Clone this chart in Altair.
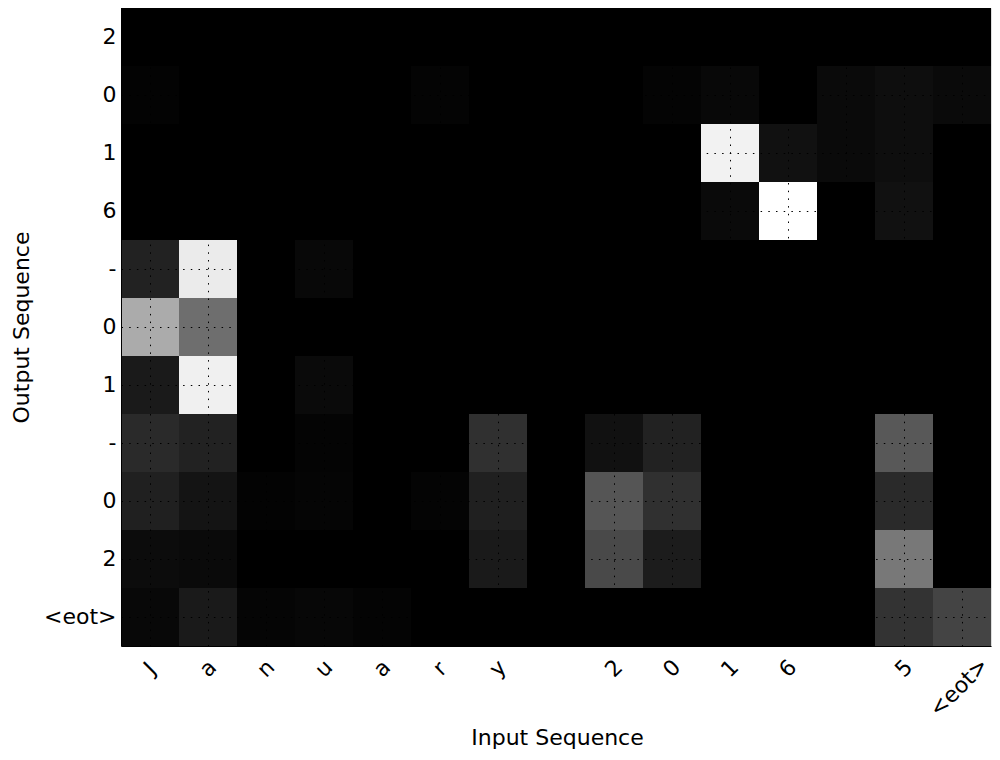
import json
import altair as alt
import pandas as pd

# Input characters (x) and output characters (y)
inputs = ["J", "a", "n", "u", "a", "r", "y", " ", "2", "0", "1", "6", " ", "5", "<eot>"]
outputs = ["2", "0", "1", "6", "-", "0", "1", "-", "0", "2", "<eot>"]

# Attention weights, one list per output character
row_2a = [0, 0, 0, 0, 0, 0, 0, 0, 0, 0, 0, 0, 0, 0, 0]
row_0a = [0.01, 0, 0, 0, 0, 0.015, 0, 0, 0, 0.015, 0.03, 0, 0.04, 0.055, 0.04]
row_1a = [0, 0, 0, 0, 0, 0, 0, 0, 0, 0, 0.95, 0.065, 0.04, 0.055, 0]
row_6a = [0, 0, 0, 0, 0, 0, 0, 0, 0, 0, 0.04, 1.0, 0, 0.065, 0]
row_da = [0.135, 0.92, 0, 0.03, 0, 0, 0, 0, 0, 0, 0, 0, 0, 0, 0]
row_0b = [0.67, 0.43, 0, 0, 0, 0, 0, 0, 0, 0, 0, 0, 0, 0, 0]
row_1b = [0.1, 0.94, 0, 0.04, 0, 0, 0, 0, 0, 0, 0, 0, 0, 0, 0]
row_db = [0.165, 0.135, 0, 0.015, 0, 0, 0.19, 0, 0.065, 0.135, 0, 0, 0, 0.345, 0]
row_0c = [0.125, 0.08, 0.01, 0.02, 0, 0.015, 0.125, 0, 0.335, 0.19, 0, 0, 0, 0.165, 0]
row_2c = [0.047, 0.04, 0, 0, 0, 0, 0.1, 0, 0.285, 0.11, 0, 0, 0, 0.47, 0]
row_eot = [0.03, 0.1, 0.02, 0.027, 0.015, 0, 0, 0, 0, 0, 0, 0, 0, 0.2, 0.265]

rows = [row_2a, row_0a, row_1a, row_6a, row_da, row_0b, row_1b,
        row_db, row_0c, row_2c, row_eot]

records = []
for yi, r in enumerate(rows):
    for xi, v in enumerate(r):
        records.append({"xi": xi, "yi": yi, "w": v})
df = pd.DataFrame(records)

FONT = "DejaVu Sans"
x_lab = json.dumps(inputs)
y_lab = json.dumps(outputs)
last = len(inputs) - 1

gray = alt.Scale(domain=[0, 1], range=["black", "white"], interpolate="rgb")

chart = alt.Chart(df).mark_rect(strokeWidth=0).encode(
    x=alt.X(
        "xi:O",
        scale=alt.Scale(paddingInner=0, paddingOuter=0),
        axis=alt.Axis(
            title="Input Sequence",
            labelExpr=f"{x_lab}[datum.value]",
            labelAngle=315,
            labelAlign="center",
            labelBaseline="middle",
            labelPadding=alt.condition(f"datum.value == {last}", alt.value(41), alt.value(22)),
            labelOffset=alt.condition(f"datum.value == {last}", alt.value(-3), alt.value(0)),
            labelFontSize=22,
            labelFont=FONT,
            labelColor="black",
            ticks=False,
            tickSize=0,
            grid=True,
            gridColor="black",
            gridDash=[1.5, 6.2],
            gridWidth=1,
            bandPosition=0.5,
            domainColor="black",
            titleFont=FONT,
            titleFontSize=22,
            titleFontWeight="normal",
            titleColor="black",
            titleBaseline="alphabetic",
            titleX=436,
            titleY=98,
            zindex=1,
        ),
    ),
    y=alt.Y(
        "yi:O",
        scale=alt.Scale(paddingInner=0, paddingOuter=0),
        axis=alt.Axis(
            title="Output Sequence",
            labelExpr=f"{y_lab}[datum.value]",
            labelPadding=5,
            labelFontSize=22,
            labelFont=FONT,
            labelColor="black",
            ticks=False,
            tickSize=0,
            grid=True,
            gridColor="black",
            gridDash=[1.5, 6.2],
            gridWidth=1,
            bandPosition=0.5,
            domainColor="black",
            titleFont=FONT,
            titleFontSize=22,
            titleFontWeight="normal",
            titleColor="black",
            titleBaseline="alphabetic",
            titleAngle=270,
            titleX=-93,
            titleY=319,
            zindex=1,
        ),
    ),
    color=alt.Color("w:Q", scale=gray, legend=None),
).properties(
    width=870,
    height=638,
    autosize=alt.AutoSizeParams(type="none"),
    padding={"left": 113, "top": 0, "right": 1, "bottom": 106},
).configure_view(stroke="black", strokeWidth=1, fill="black").configure(background="white")

chart.save("out.html", embed_options={"renderer": "svg", "actions": False})
